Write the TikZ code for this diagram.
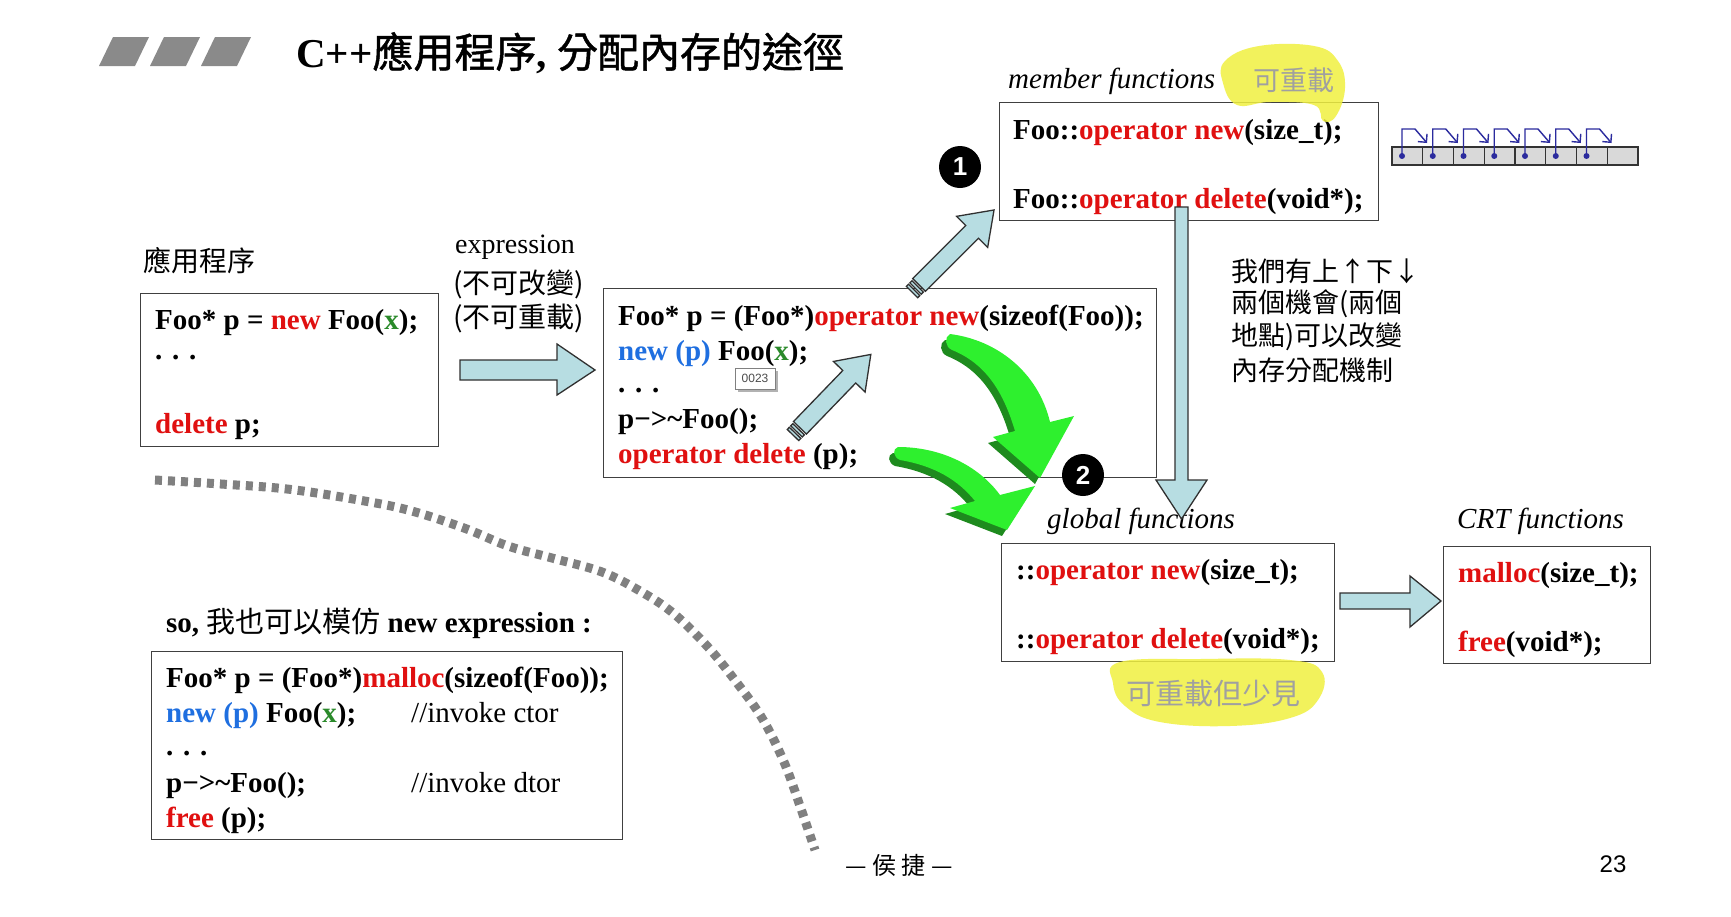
\documentclass[tikz,border=0pt]{standalone}
\usepackage{fontspec}
\setmainfont{Liberation Serif}
\newfontfamily\cjk{Noto Sans CJK TC}
\newfontfamily\cjkheavy[FakeBold=1.2]{Noto Sans CJK TC}
\newfontfamily\lsans{Liberation Sans}
\usetikzlibrary{arrows.meta}

\definecolor{codered}{HTML}{E01010}
\definecolor{codeblue}{HTML}{1F6FE0}
\definecolor{codegreen}{HTML}{2A8A2A}
\definecolor{boxline}{HTML}{404040}
\definecolor{arrowblue}{HTML}{B7DDE2}
\definecolor{arrowline}{HTML}{303030}
\definecolor{hlyellow}{HTML}{F0F040}
\definecolor{fadegray}{HTML}{A0A0A0}
\definecolor{dotgray}{HTML}{808080}
\definecolor{brightgreen}{HTML}{2EF02E}
\definecolor{darkgreen}{HTML}{1E8A1E}
\definecolor{cellgray}{HTML}{D9D9D9}
\definecolor{linkblue}{HTML}{2B2B9E}
\definecolor{stripegray}{HTML}{8A8A8A}

\newcommand\cred[1]{\textcolor{codered}{#1}}
\newcommand\cblue[1]{\textcolor{codeblue}{#1}}
\newcommand\cgrn[1]{\textcolor{codegreen}{#1}}

% hollow block arrow with a striped tail: #1 tail point, #2 angle, #3 length
\newcommand\tailarrow[3]{%
  \begin{scope}[shift={#1}, rotate=#2]
    \filldraw[hollow] (0,-8) rectangle (3,8);
    \filldraw[hollow] (5,-8) rectangle (8,8);
    \filldraw[hollow] (10,-9) -- (#3-31,-9) -- (#3-31,-22) -- (#3,0)
      -- (#3-31,22) -- (#3-31,9) -- (10,9) -- cycle;
  \end{scope}}

\begin{document}
\begin{tikzpicture}[x=1pt, y=-1pt,
  panel/.style={draw=boxline, line width=1.4pt, fill=white, inner sep=0pt, anchor=north west},
  code/.style={anchor=base west, inner sep=0pt, font=\bfseries\fontsize{29}{34}\selectfont},
  comment/.style={anchor=base west, inner sep=0pt, font=\fontsize{29}{34}\selectfont},
  tag/.style={anchor=base west, inner sep=0pt, font=\itshape\fontsize{29}{34}\selectfont},
  cjktext/.style={anchor=west, inner sep=0pt, font=\cjk\fontsize{28}{33}\selectfont},
  notetext/.style={anchor=west, inner sep=0pt, font=\cjk\fontsize{27}{33}\selectfont},
  hollow/.style={fill=arrowblue, draw=arrowline, line width=1.3pt, line join=miter},
  badge/.style={circle, fill=black, minimum size=42pt, inner sep=0pt, text=white,
    font=\lsans\bfseries\fontsize{26}{26}\selectfont},
  highlight/.style={fill=hlyellow, opacity=0.85},
]
\useasboundingbox (0,0) rectangle (1731,916);
\fill[white] (0,0) rectangle (1731,916);

% ---------- title ----------
\foreach \k in {0,1,2}
  \fill[stripegray] ({99+51*\k},66) -- ({113+51*\k},37) -- ({149+51*\k},37) -- ({135+51*\k},66) -- cycle;
\node[anchor=west, inner sep=0pt, font=\fontsize{41}{41}\selectfont] (title) at (296,53)
  {\textbf{C++}{\cjkheavy 應用程序}\textbf{,} {\cjkheavy 分配內存的途徑}};

% ---------- boxes ----------
\node[panel, minimum width=298pt, minimum height=153pt] (app) at (140,293) {};
\node[panel, minimum width=553pt, minimum height=189pt] (expand) at (603,288) {};
\node[panel, minimum width=379pt, minimum height=118pt] (member) at (999,102) {};
\node[panel, minimum width=333pt, minimum height=118pt] (global) at (1001,543) {};
\node[panel, minimum width=207pt, minimum height=117pt] (crt) at (1443,546) {};
\node[panel, minimum width=471pt, minimum height=188pt] (mimic) at (151,651) {};

% ---------- application code ----------
\node[cjktext] (applabel) at (143,261) {應用程序};
\node[code] (a1) at (155,329) {Foo* p = \cred{new} Foo(\cgrn{x});};
\node[code] (a2) at (155,359) {. . .};
\node[code] (a3) at (155,433) {\cred{delete} p;};

% ---------- expression labels ----------
\node[anchor=base west, inner sep=0pt, font=\fontsize{28}{33}\selectfont] (exprlabel) at (455,253) {expression};
\node[cjktext] (expr1) at (453,284) {(不可改變)};
\node[cjktext] (expr2) at (453,318) {(不可重載)};

% ---------- expanded code ----------
\node[code] (b1) at (618,325) {Foo* p = (Foo*)\cred{operator new}(sizeof(Foo));};
\node[code] (b2) at (618,360) {\cblue{new (p)} Foo(\cgrn{x});};
\node[code] (b3) at (618,392) {. . .};
\node[code] (b4) at (618,428) {p−>\textasciitilde Foo();};
\node[code] (b5) at (618,463) {\cred{operator delete} (p);};

% ---------- member functions ----------
\node[tag] (memberlabel) at (1008,88) {member functions};
\node[code] (m1) at (1013,139) {Foo::\cred{operator new}(size\_t);};
\node[code] (m2) at (1013,208) {Foo::\cred{operator delete}(void*);};

% ---------- global functions ----------
\node[tag] (globallabel) at (1047,528) {global functions};
\node[code] (g1) at (1016,579) {::\cred{operator new}(size\_t);};
\node[code] (g2) at (1016,648) {::\cred{operator delete}(void*);};

% ---------- CRT functions ----------
\node[tag] (crtlabel) at (1457,528) {CRT functions};
\node[code] (c1) at (1458,582) {\cred{malloc}(size\_t);};
\node[code] (c2) at (1458,651) {\cred{free}(void*);};

% ---------- side note ----------
\node[notetext] (n1) at (1231,271) {我們有上↑下↓};
\node[notetext] (n2) at (1231,304) {兩個機會(兩個};
\node[notetext] (n3) at (1231,337) {地點)可以改變};
\node[notetext] (n4) at (1231,370) {內存分配機制};

% ---------- mimicking the new expression ----------
\node[anchor=base west, inner sep=0pt, font=\fontsize{29}{34}\selectfont] (so) at (166,632)
  {\textbf{so,} {\cjk 我也可以模仿} \textbf{new expression :}};
\node[code] (d1) at (166,687) {Foo* p = (Foo*)\cred{malloc}(sizeof(Foo));};
\node[code] (d2) at (166,722) {\cblue{new (p)} Foo(\cgrn{x});};
\node[comment] (d2c) at (411,722) {//invoke ctor};
\node[code] (d3) at (166,755) {. . .};
\node[code] (d4) at (166,792) {p−>\textasciitilde Foo();};
\node[comment] (d4c) at (411,792) {//invoke dtor};
\node[code] (d5) at (166,827) {\cred{free} (p);};

% ---------- dotted divider ----------
\draw[dotgray, line width=9pt, dash pattern=on 7pt off 6pt]
  plot[smooth, tension=0.6] coordinates {(155,480) (221,484) (287,489) (353,499) (408,510)
  (464,528) (508,546) (552,558) (602,572) (640,591) (673,613) (707,646) (734,679)
  (762,718) (784,762) (800,806) (815,850)};

% ---------- tooltip ----------
\fill[black!30] (738,371) rectangle (778,392);
\node[draw=black!50, fill=white, line width=0.8pt, minimum width=40pt, minimum height=21pt,
  inner sep=0pt, font=\lsans\fontsize{12}{12}\selectfont, text=black!70] (tooltip) at (755,378.5) {0023};

% ---------- block arrows ----------
\coordinate (appout) at (460,370);
\begin{scope}[shift={(appout)}]
  \filldraw[hollow] (0,-10) -- (97,-10) -- (97,-26) -- (135,0) -- (97,25) -- (97,10) -- (0,10) -- cycle;
\end{scope}
\coordinate (globalout) at (1340,601);
\begin{scope}[shift={(globalout)}]
  \filldraw[hollow] (0,-8) -- (70,-8) -- (70,-25) -- (101,0) -- (70,26) -- (70,8) -- (0,8) -- cycle;
\end{scope}
\coordinate (memberdown) at (1181.5,207);
\begin{scope}[shift={(memberdown)}]
  \filldraw[hollow] (-6.5,0) -- (6.5,0) -- (6.5,273) -- (25.5,273) -- (0,312) -- (-25.5,273) -- (-6.5,273) -- cycle;
\end{scope}
\tailarrow{(912,292)}{45}{116}
\tailarrow{(793,435)}{46}{112}

% ---------- green curved arrows ----------
\foreach \dx/\dy/\col in {-5/6/darkgreen, 0/0/brightgreen} {
  \fill[\col, shift={(\dx,\dy)}] (950,334) .. controls (997,340) and (1038,372) .. (1050,422)
    -- (1074,416) -- (1040,478) -- (993,437) -- (1015,431)
    .. controls (1004,394) and (987,364) .. (952,350)
    .. controls (945,347) and (944,337) .. (950,334) -- cycle;
  \fill[\col, shift={(\dx,\dy)}] (898,447) .. controls (940,447) and (978,465) .. (1000,495)
    -- (1035,486) -- (1007,530) -- (950,508) -- (975,501)
    .. controls (958,480) and (935,466) .. (900,460)
    .. controls (893,457) and (892,449) .. (898,447) -- cycle;
}

% ---------- numbered badges ----------
\node[badge] (one) at (960,167) {1};
\node[badge] (two) at (1083,475) {2};

% ---------- highlights ----------
\fill[highlight] plot[smooth cycle, tension=0.7] coordinates {(1225,61) (1259,46) (1314,46)
  (1338,61) (1345,88) (1336,116) (1323,121) (1314,105) (1270,102) (1237,105) (1223,83)};
\node[anchor=west, inner sep=0pt, font=\cjk\fontsize{27}{27}\selectfont, text=fadegray] (memnote) at (1253,80) {可重載};
\fill[highlight] plot[smooth cycle, tension=0.7] coordinates {(1120,662) (1200,659) (1290,660)
  (1322,672) (1318,700) (1290,718) (1230,726) (1160,722) (1125,706) (1113,683)};
\node[anchor=west, inner sep=0pt, font=\cjk\fontsize{29}{29}\selectfont, text=fadegray] (globnote) at (1126,693) {可重載但少見};

% ---------- memory pool strip ----------
\foreach \i in {0,...,7}
  \draw[fill=cellgray, draw=black!80, line width=1.2pt] ({1392+30.75*\i},147) rectangle ++(30.75,18);
\foreach \i in {0,...,6} {
  \pgfmathsetmacro\cx{1392+30.75*\i+10}
  \fill[linkblue] (\cx,156) circle (3pt);
  \draw[linkblue, line width=1.4pt, -{Straight Barb[length=6pt,width=12pt]}]
    (\cx,156) -- (\cx,129) -- (\cx+13,129) -- (\cx+25,143);
}

% ---------- footer ----------
\node[inner sep=0pt, font=\cjk\fontsize{24}{24}\selectfont] (author) at (899,865) {— 侯 捷 —};
\node[inner sep=0pt, font=\lsans\fontsize{24}{24}\selectfont] (page) at (1613,864) {23};
\end{tikzpicture}
\end{document}
